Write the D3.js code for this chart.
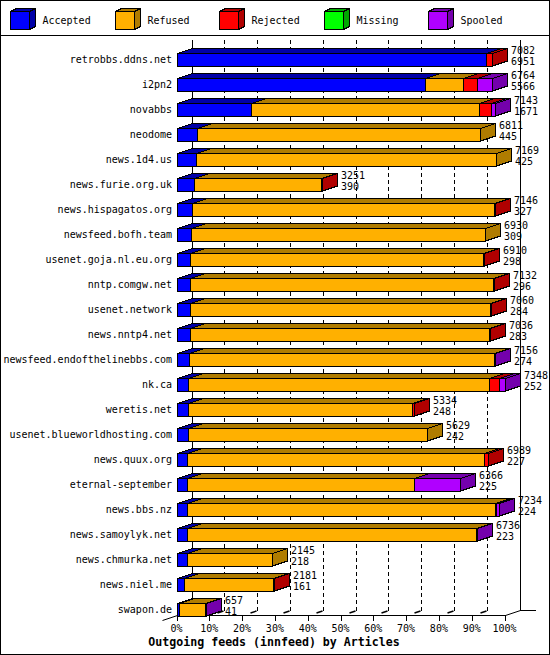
<!DOCTYPE html>
<html><head><meta charset="utf-8">
<script src="https://cdn.jsdelivr.net/npm/d3@7"></script>
<style>
html,body{margin:0;padding:0;background:#fff;}
svg{display:block;}
text{font-family:"DejaVu Sans Mono",monospace;font-size:10px;fill:#000;}
</style></head>
<body><div id="chart"></div>
<script>
const categories = ["retrobbs.ddns.net","i2pn2","novabbs","neodome","news.1d4.us","news.furie.org.uk","news.hispagatos.org","newsfeed.bofh.team","usenet.goja.nl.eu.org","nntp.comgw.net","usenet.network","news.nntp4.net","newsfeed.endofthelinebbs.com","nk.ca","weretis.net","usenet.blueworldhosting.com","news.quux.org","eternal-september","news.bbs.nz","news.samoylyk.net","news.chmurka.net","news.niel.me","swapon.de"];
const totals   = [7082,6764,7143,6811,7169,3251,7146,6930,6910,7132,7060,7036,7156,7348,5334,5629,6989,6366,7234,6736,2145,2181,657];
const accepted = [6951,5566,1671,445,425,390,327,309,298,296,284,283,274,252,248,242,227,225,224,223,218,161,41];
const refused  = [0,875,5110,6366,6744,2841,6799,6621,6582,6816,6746,6738,6862,6770,5040,5387,6672,5114,6925,6498,1927,2000,596];
const rejected = [131,315,270,0,0,20,20,0,30,20,30,15,0,230,46,0,90,0,22,0,0,20,0];
const missing  = [0,0,0,0,0,0,0,0,0,0,0,0,0,0,0,0,0,0,0,0,0,0,0];
const spooled  = [0,338,90,0,0,0,0,0,0,0,0,0,20,113,0,0,0,1027,67,15,0,0,20];
const seriesNames = ["Accepted","Refused","Rejected","Missing","Spooled"];
const tickLabels = ["0%","10%","20%","30%","40%","50%","60%","70%","80%","90%","100%"];
const tickValues = [0,10,20,30,40,50,60,70,80,90,100];
const title = "Outgoing feeds (innfeed) by Articles";

const colors = ["#0000ff","#ffb000","#ff0000","#00ff00","#b000ff"];
const darks  = ["#0000a8","#b07c00","#b00000","#00a800","#7400ac"];

const W = 550, H = 655;
const DX = 15, DY = 5;
const series = [accepted, refused, rejected, missing, spooled];
const sums = categories.map((c,i)=>series.reduce((a,s)=>a+s[i],0));

const svg = d3.select("#chart").append("svg").attr("width",W).attr("height",H)
  .attr("shape-rendering","crispEdges");
svg.append("rect").attr("x",0).attr("y",0).attr("width",W).attr("height",H).attr("fill","#fff");

const x = d3.scaleLinear().domain([0, d3.max(sums)]).range([177, 504.5]);
const xp = d3.scaleLinear().domain([0,100]).range([176.5, 504.5]);
const y = d3.scaleBand().domain(categories).range([40.5, 615.5]).paddingInner(0).paddingOuter(0);

// back-plane grid lines
const g = svg.append("g");
tickValues.forEach((t,k)=>{
  const xb = Math.round(xp(t)) + DX + 0.5;
  g.append("line").attr("x1",xb).attr("x2",xb).attr("y1",40).attr("y2",611)
    .attr("stroke","#000").attr("stroke-width",1)
    .attr("stroke-dasharray",(k===0||k===10)?null:"4,3");
});
// floor lines
const yF = 615.5, yB = 610.5;
g.append("line").attr("x1",Math.round(xp(0))+0.5).attr("x2",Math.round(xp(100))+0.5).attr("y1",yF).attr("y2",yF).attr("stroke","#000");
g.append("line").attr("x1",Math.round(xp(100))+0.5).attr("y1",yF).attr("x2",Math.round(xp(100))+DX+0.5).attr("y2",yB).attr("stroke","#000").attr("shape-rendering","auto");
g.append("line").attr("x1",Math.round(xp(100))+DX+0.5).attr("x2",536).attr("y1",yB).attr("y2",yB).attr("stroke","#000");
g.append("line").attr("x1",Math.round(xp(0))-DX+0.5).attr("y1",yF+5).attr("x2",Math.round(xp(0))+0.5).attr("y2",yF).attr("stroke","#000").attr("shape-rendering","auto");
tickValues.forEach((t,k)=>{
  const xf = Math.round(xp(t))+0.5;
  g.append("line").attr("x1",xf).attr("x2",xf).attr("y1",yF).attr("y2",yF+5).attr("stroke","#000");
  if(k>0 && k<10){
    const xb = Math.round(xp(t))+DX+0.5;
    g.append("line").attr("x1",xb-7).attr("y1",yB+2.5).attr("x2",xb-1).attr("y2",yB+0.5)
      .attr("stroke","#000").attr("stroke-width",1.5).attr("shape-rendering","auto");
  }
  g.append("text").attr("x",xp(t)).attr("y",628).attr("text-anchor","middle")
    .attr("dominant-baseline","central").text(tickLabels[k]);
});

// bars
const bars = svg.append("g");
categories.forEach((c,i)=>{
  const y0 = y(c);
  const top = Math.round(y0 + 12.5) + 0.5, bot = Math.round(y0 + 25) - 0.5 + 0.5;
  let cum = 0;
  const segs = [];
  series.forEach((s,j)=>{ if(s[i]>0){ segs.push({j, a:cum, b:cum+s[i]}); } cum += s[i]; });
  segs.forEach((sg,n)=>{
    const x0 = Math.round(x(sg.a))+0.5, x1 = Math.round(x(sg.b))+0.5;
    bars.append("polygon")
      .attr("points",`${x0},${top} ${x0+DX},${top-DY} ${x1+DX},${top-DY} ${x1},${top}`)
      .attr("fill",darks[sg.j]).attr("stroke","#000").attr("stroke-linejoin","miter");
    bars.append("rect").attr("x",x0).attr("y",top).attr("width",x1-x0).attr("height",bot-top)
      .attr("fill",colors[sg.j]).attr("stroke","#000");
    if(n===segs.length-1){
      bars.append("polygon")
        .attr("points",`${x1},${top} ${x1+DX},${top-DY} ${x1+DX},${bot-DY} ${x1},${bot}`)
        .attr("fill",darks[sg.j]).attr("stroke","#000");
    }
  });
  const xe = Math.round(x(cum)) + DX + 4;
  bars.append("text").attr("x",xe).attr("y",top-3.5).attr("dominant-baseline","central").text(totals[i]);
  bars.append("text").attr("x",xe).attr("y",top+8).attr("dominant-baseline","central").text(accepted[i]);
  bars.append("text").attr("x",172).attr("y",top+6.3).attr("text-anchor","end")
    .attr("dominant-baseline","central").text(c);
});

// title
svg.append("text").attr("x",274).attr("y",641.5).attr("text-anchor","middle")
  .attr("dominant-baseline","central").style("font-weight","bold").style("font-size","11.6px").text(title);

// legend
const lg = svg.append("g");
seriesNames.forEach((n,i)=>{
  const bx = Math.round(10 + 104.5*i) + 0.5, by = 11.5, bw = 19, bh = 18, ldx = 6, ldy = 3;
  lg.append("polygon").attr("points",`${bx},${by} ${bx+ldx},${by-ldy} ${bx+bw+ldx},${by-ldy} ${bx+bw},${by}`)
    .attr("fill",darks[i]).attr("stroke","#000");
  lg.append("polygon").attr("points",`${bx+bw},${by} ${bx+bw+ldx},${by-ldy} ${bx+bw+ldx},${by+bh-ldy} ${bx+bw},${by+bh}`)
    .attr("fill",darks[i]).attr("stroke","#000");
  lg.append("rect").attr("x",bx).attr("y",by).attr("width",bw).attr("height",bh)
    .attr("fill",colors[i]).attr("stroke","#000");
  lg.append("text").attr("x",bx+32).attr("y",20).attr("dominant-baseline","central").text(n);
});

// frame
svg.append("line").attr("x1",0).attr("x2",W).attr("y1",35.5).attr("y2",35.5).attr("stroke","#000");
svg.append("rect").attr("x",0.5).attr("y",0.5).attr("width",W-1).attr("height",H-1)
  .attr("fill","none").attr("stroke","#000");
</script></body></html>
